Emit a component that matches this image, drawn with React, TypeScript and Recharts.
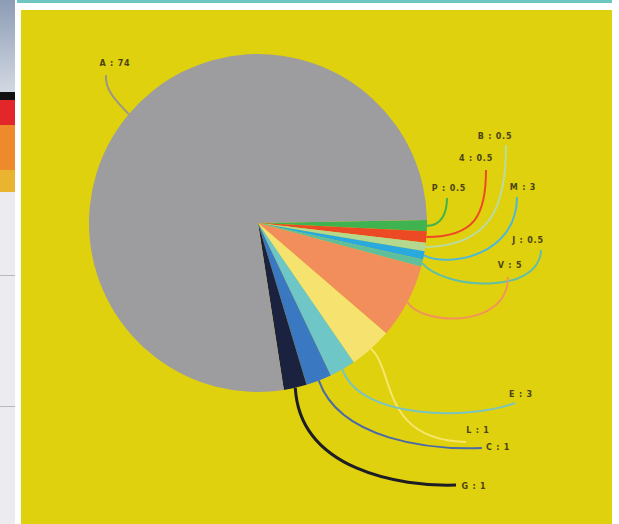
import { PieChart, Pie, Cell } from 'recharts';

// slice names, the value printed in each label, and the slice size (degrees)
const names = ['P', '4', 'B', 'M', 'J', 'V', 'L', 'E', 'C', 'G', 'A'];
const printed = ['0.5', '0.5', '0.5', '3', '0.5', '5', '1', '3', '1', '1', '74'];
const shares = [3.8, 3.9, 2.9, 2.9, 2.5, 25.7, 14.8, 9, 8.8, 7.9, 277.8];
const colors = [
  '#3fb34f', '#ec4a25', '#b4d88e', '#2aa9de', '#5fbf9c', '#f28e5c',
  '#f6e36f', '#6ec6c6', '#3a78c2', '#1a2240', '#9d9c9f',
];
const lineColors = [
  '#3fb34f', '#ec4a25', '#b9dba0', '#4fb8d6', '#5fbfa9', '#f0955a',
  '#f7e66e', '#79c4c2', '#4a6aa8', '#1d1e25', '#9a9688',
];

const chartData = names.map((n, i) => ({ name: n, value: shares[i], shown: printed[i] }));

// leader-line layout, offsets from the pie centre: [c1x, c1y, c2x, c2y, endx, endy, textx, texty]
const leaders = [
  [182, 3, 189, -8, 189, -25, 191, -35],
  [217, 14, 228, -8, 228, -53, 218, -65],
  [237, 23, 248, -23, 248, -78, 237, -87],
  [192, 45, 259, 32, 259, -26, 265, -36],
  [187, 67, 282, 72, 283, 27, 270, 17],
  [162, 102, 250, 107, 250, 54, 252, 42],
  [137, 147, 122, 217, 208, 219, 220, 207],
  [102, 197, 212, 197, 257, 180, 263, 171],
  [82, 217, 172, 227, 224, 225, 240, 224],
  [42, 247, 142, 264, 198, 262, 216, 263],
  [-143, -123, -153, -133, -152, -148, -143, -160],
];

const CX = 237;
const CY = 213;
const RAD = Math.PI / 180;

function renderLabel(props: any) {
  const { cx, cy, midAngle, outerRadius, index } = props;
  const sx = cx + outerRadius * Math.cos(-midAngle * RAD);
  const sy = cy + outerRadius * Math.sin(-midAngle * RAD);
  const [a, b, c, d, ex, ey, tx, ty] = leaders[index];
  const path = `M${sx},${sy} C${cx + a},${cy + b} ${cx + c},${cy + d} ${cx + ex},${cy + ey}`;
  return (
    <g key={`lbl-${index}`}>
      <path d={path} fill="none" stroke={lineColors[index]} strokeWidth={index === 9 ? 3 : 2} />
      <text
        x={cx + tx}
        y={cy + ty}
        textAnchor="middle"
        dominantBaseline="central"
        fill="#4b4318"
        fontSize={8}
        fontWeight="bold"
        letterSpacing={0.8}
        fontFamily="DejaVu Sans, sans-serif"
      >
        {`${names[index]} : ${printed[index]}`}
      </text>
    </g>
  );
}

export default function App() {
  return (
    <div style={{ position: 'absolute', left: 0, top: 0, width: 619, height: 524, background: '#ffffff', overflow: 'hidden' }}>
      {/* left photo strip */}
      <div style={{ position: 'absolute', left: 0, top: 0, width: 15, height: 92, background: 'linear-gradient(#8c9cb4, #d3d9e2)' }} />
      <div style={{ position: 'absolute', left: 0, top: 92, width: 15, height: 8, background: '#111111' }} />
      <div style={{ position: 'absolute', left: 0, top: 100, width: 15, height: 25, background: '#e2262a' }} />
      <div style={{ position: 'absolute', left: 0, top: 125, width: 15, height: 45, background: '#ee8a2c' }} />
      <div style={{ position: 'absolute', left: 0, top: 170, width: 15, height: 22, background: '#e9b530' }} />
      <div style={{ position: 'absolute', left: 0, top: 192, width: 15, height: 332, background: '#ececf0' }} />
      <div style={{ position: 'absolute', left: 0, top: 275, width: 15, height: 1, background: '#b9b9bd' }} />
      <div style={{ position: 'absolute', left: 0, top: 406, width: 15, height: 1, background: '#b9b9bd' }} />
      {/* top bar */}
      <div style={{ position: 'absolute', left: 17, top: 0, width: 595, height: 3, background: '#6ec6c2' }} />
      {/* chart panel */}
      <div style={{ position: 'absolute', left: 21, top: 10, width: 591, height: 514, background: '#e0d10e' }}>
        <PieChart width={591} height={514} margin={{ top: 0, right: 0, bottom: 0, left: 0 }}>
          <Pie
            data={chartData}
            dataKey="value"
            nameKey="name"
            cx={CX}
            cy={CY}
            outerRadius={169}
            startAngle={1}
            endAngle={-359}
            stroke="none"
            label={renderLabel}
            labelLine={false}
            isAnimationActive={false}
          >
            {chartData.map((d, i) => (
              <Cell key={d.name} fill={colors[i]} />
            ))}
          </Pie>
        </PieChart>
      </div>
    </div>
  );
}
